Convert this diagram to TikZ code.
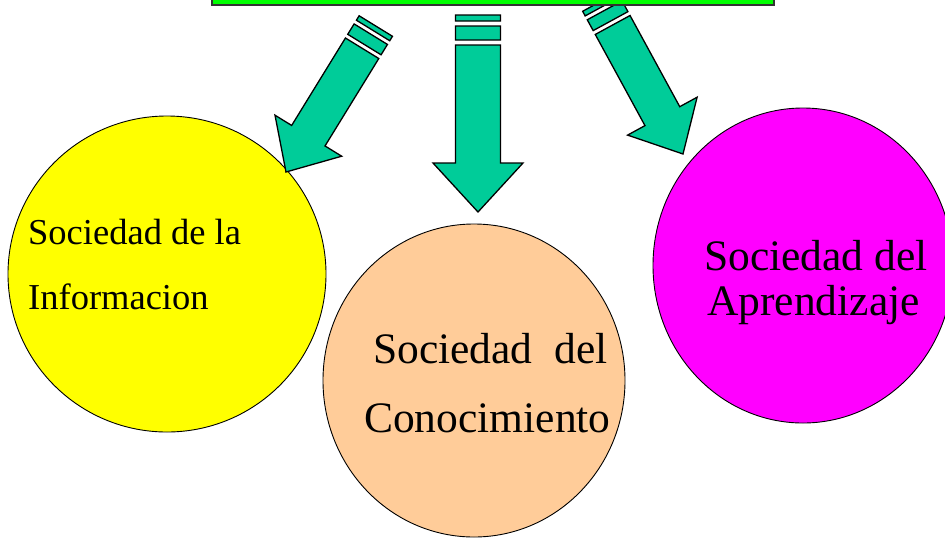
\documentclass[tikz,border=0pt]{standalone}
\usepackage{fontspec}
\setmainfont{Liberation Serif}
\usetikzlibrary{shapes.geometric}
\definecolor{topgreen}{HTML}{00FF00}
\definecolor{arrowgreen}{HTML}{00CC99}
\definecolor{sunyellow}{HTML}{FFFF00}
\definecolor{peach}{HTML}{FFCC99}
\definecolor{pinkmag}{HTML}{FF00FF}
\tikzset{
  bubble/.style={draw=black, line width=0.9pt, ellipse, inner sep=0pt},
  blockarrow/.style={fill=arrowgreen, draw=black, line width=1.3pt, line join=miter},
  smalltext/.style={anchor=base west, inner sep=0pt, font=\fontsize{36.5}{40}\selectfont},
  bigtext/.style={anchor=base west, inner sep=0pt, font=\fontsize{43.5}{48}\selectfont},
}
\newcommand{\bigarrowshape}{%
  (0,0) -- (-45,-49) -- (-22.5,-49) -- (-22.5,-167) -- (22.5,-167) -- (22.5,-49) -- (45,-49) -- cycle
  (-22.5,-172) rectangle (22.5,-186)
  (-22.5,-191) rectangle (22.5,-197)}
\begin{document}
\begin{tikzpicture}[x=1pt,y=-1pt]
\useasboundingbox (0,0) rectangle (945,539);
% circles
\node[bubble, fill=sunyellow, minimum width=318pt, minimum height=316pt] (info) at (167,274) {};
\node[bubble, fill=peach, minimum width=302pt, minimum height=313pt] (conoc) at (474,380.5) {};
\node[bubble, fill=pinkmag, minimum width=300pt, minimum height=315pt] (aprend) at (803,265.5) {};
% texts
\node[smalltext] (t1a) at (28,244) {Sociedad de la};
\node[smalltext] (t1b) at (28,309) {Informacion};
\node[bigtext] (t2a) at (373,363) {Sociedad\hspace{22pt}del};
\node[bigtext] (t2b) at (364,432) {Conocimiento};
\node[bigtext] (t3a) at (704,270) {Sociedad del};
\node[bigtext] (t3b) at (707,315) {Aprendizaje};
% block arrows
\draw[blockarrow, shift={(286,172)}, rotate=-31.6, scale=0.87] \bigarrowshape;
\draw[blockarrow, shift={(478,212)}] \bigarrowshape;
\draw[blockarrow, shift={(683,154)}, rotate=28.6, scale=0.88] \bigarrowshape;
% top box
\node[draw=black!80, line width=2pt, fill=topgreen, minimum width=562pt, minimum height=20pt, inner sep=0pt] (top) at (493,-5) {};
\end{tikzpicture}
\end{document}
